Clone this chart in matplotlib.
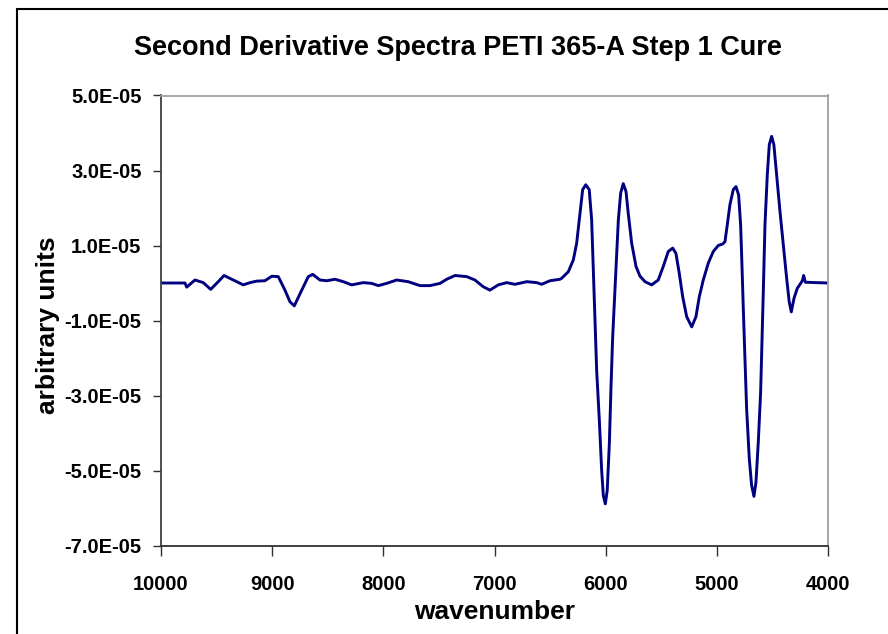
import numpy as np
import matplotlib
matplotlib.use("Agg")
import matplotlib.pyplot as plt
from matplotlib.patches import Rectangle
from matplotlib.ticker import FuncFormatter, FixedLocator

plt.rcParams['font.family'] = ['Liberation Sans', 'DejaVu Sans']

# ---- data ----
wavenumber = [10000, 9784, 9769, 9694, 9620, 9553, 9485, 9433, 9364, 9260,
              9199, 9139, 9065, 9004, 8945, 8885, 8840, 8801, 8734, 8675,
              8635, 8570, 8510, 8435, 8360, 8285, 8180, 8105, 8045, 7970,
              7880, 7776, 7670, 7580, 7490, 7430, 7355, 7250, 7176, 7101,
              7041, 6966, 6890, 6816, 6710, 6620, 6576, 6501, 6411, 6396,
              6336, 6291, 6261, 6231, 6207, 6179, 6148, 6126, 6111, 6096,
              6081, 6057, 6036, 6021, 6003, 5986, 5967, 5952, 5937, 5925,
              5907, 5886, 5865, 5842, 5817, 5797, 5766, 5727, 5691, 5646,
              5586, 5527, 5482, 5437, 5397, 5368, 5338, 5307, 5271, 5226,
              5188, 5158, 5122, 5077, 5032, 4987, 4948, 4927, 4906, 4882,
              4852, 4828, 4804, 4786, 4774, 4762, 4747, 4732, 4708, 4687,
              4666, 4648, 4627, 4606, 4591, 4582, 4567, 4546, 4528, 4507,
              4487, 4462, 4432, 4402, 4372, 4349, 4330, 4306, 4276, 4246,
              4228, 4219, 4204, 4000]
second_deriv_e6 = [0, 0, -1.1, 0.8, 0.1, -1.7, 0.35, 2.0, 1.0, -0.5,
                   0.1, 0.5, 0.6, 1.8, 1.7, -1.9, -5.0, -6.1, -1.9, 1.7,
                   2.3, 0.8, 0.6, 1.0, 0.35, -0.5, 0.1, -0.1, -0.7, -0.1,
                   0.8, 0.35, -0.7, -0.7, -0.1, 1.0, 2.0, 1.7, 0.8, -1.0,
                   -1.9, -0.5, 0.1, -0.35, 0.35, 0.1, -0.35, 0.6, 1.0, 1.26,
                   3.0, 6.15, 10.6, 18.6, 24.9, 26.2, 24.9, 16.8, 3.5, -9.9,
                   -23.3, -36.6, -50.0, -56.7, -58.9, -55.3, -42.9, -27.7, -14.4, -7.2,
                   3.5, 16.8, 24.0, 26.5, 24.4, 18.6, 10.6, 4.4, 1.8, 0.35,
                   -0.5, 0.8, 4.4, 8.4, 9.3, 7.9, 2.6, -3.7, -9.0, -11.7,
                   -9.0, -3.7, 0.8, 5.3, 8.4, 10.0, 10.4, 11.0, 15.5, 20.9,
                   24.9, 25.7, 23.5, 15.5, 4.8, -6.8, -20.1, -33.5, -46.9, -54.0,
                   -56.9, -53.1, -42.4, -29.1, -13.0, -2.3, 15.5, 28.9, 36.9, 39.1,
                   36.9, 28.9, 19.1, 10.2, 1.26, -5.0, -7.7, -4.1, -1.4, -0.1,
                   0.8, 2.0, 0.2, 0]
x_ticks = [10000, 9000, 8000, 7000, 6000, 5000, 4000]
y_ticks = [-7.0e-05, -5.0e-05, -3.0e-05, -1.0e-05, 1.0e-05, 3.0e-05, 5.0e-05]

title = "Second Derivative Spectra PETI 365-A Step 1 Cure"
xlabel = "wavenumber"
ylabel = "arbitrary units"

# ---- figure ----
fig = plt.figure(figsize=(8.88, 6.34), dpi=100)
ax = fig.add_axes([161 / 888, 1 - 545.5 / 634, (828 - 161) / 888, (545.5 - 95.5) / 634])

y = np.array(second_deriv_e6) * 1e-6
ax.plot(wavenumber, y, color='#000080', linewidth=2.1, solid_joinstyle='round')

ax.set_xlim(10000, 4000)
ax.set_ylim(-7e-05, 5e-05)
ax.xaxis.set_major_locator(FixedLocator(x_ticks))
ax.yaxis.set_major_locator(FixedLocator(y_ticks))
ax.yaxis.set_major_formatter(FuncFormatter(lambda v, p: f"{v:.1E}"))
ax.xaxis.set_major_formatter(FuncFormatter(lambda v, p: f"{int(round(v))}"))

for lab in ax.get_xticklabels() + ax.get_yticklabels():
    lab.set_fontweight('bold')
ax.tick_params(axis='x', direction='out', length=7, width=1.0, color='#303030',
               labelsize=14.5, pad=14)
ax.tick_params(axis='y', direction='out', length=6, width=1.0, color='#303030',
               labelsize=14.5, pad=8)

ax.spines['left'].set_color('#404040')
ax.spines['bottom'].set_color('#303030')
ax.spines['top'].set_color('#a0a0a0')
ax.spines['right'].set_color('#a0a0a0')
for s in ax.spines.values():
    s.set_linewidth(1.3)

fig.text(458 / 888, 1 - 48 / 634, title, ha='center', va='center',
         fontsize=19.5, fontweight='bold')
fig.text(495 / 888, 1 - 612 / 634, xlabel, ha='center', va='center',
         fontsize=19, fontweight='bold')
fig.text(48 / 888, 1 - 325 / 634, ylabel, ha='center', va='center',
         rotation=90, fontsize=19, fontweight='bold')

# outer chart frame
fig.add_artist(Rectangle((17 / 888, -0.2), 1.2, 0.2 + 1 - 9 / 634,
                         transform=fig.transFigure, fill=False,
                         edgecolor='black', linewidth=1.5))

fig.savefig("out.png", dpi=100)
